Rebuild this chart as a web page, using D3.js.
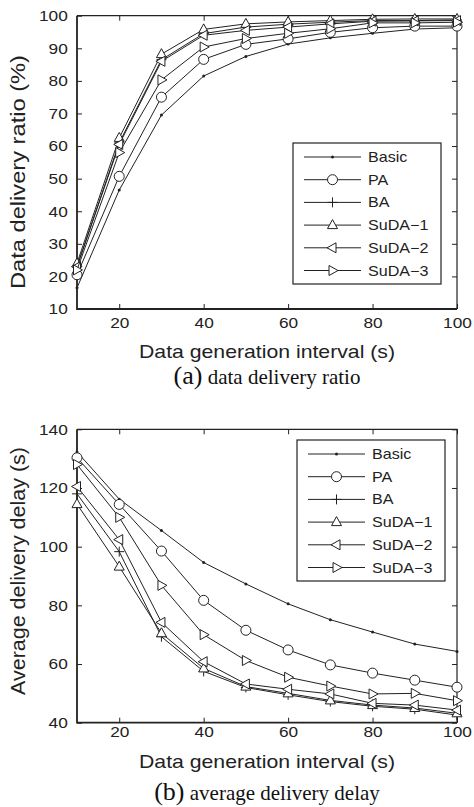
<!DOCTYPE html>
<html>
<head>
<meta charset="utf-8">
<script src="https://cdn.jsdelivr.net/npm/d3@7"></script>
<style>
  body { margin: 0; background: #fff; }
  svg { display: block; }
</style>
</head>
<body>
<svg id="fig" width="474" height="807"></svg>
<script>
// x values shared by both panels
const intervals = [10, 20, 30, 40, 50, 60, 70, 80, 90, 100];
const xTicks = [20, 40, 60, 80, 100];
const seriesNames = ["Basic", "PA", "BA", "SuDA\u22121", "SuDA\u22122", "SuDA\u22123"];
const markerTypes = ["dot", "circle", "plus", "triUp", "triLeft", "triRight"];

// (a) data delivery ratio (%)
const ratioBasic = [16.5, 46.5, 69.5, 81.5, 87.5, 91.3, 93.2, 94.6, 95.9, 96.3];
const ratioPA    = [20.5, 50.7, 75.0, 86.6, 91.2, 92.9, 94.9, 96.3, 96.8, 96.8];
const ratioBA    = [23.0, 61.0, 86.5, 94.5, 96.5, 97.4, 98.0, 98.5, 98.5, 98.7];
const ratioSuDA1 = [24.0, 62.5, 88.2, 95.8, 97.5, 98.1, 98.5, 98.9, 99.0, 99.0];
const ratioSuDA2 = [23.0, 60.5, 86.0, 94.0, 95.5, 96.5, 97.5, 98.3, 98.4, 98.5];
const ratioSuDA3 = [22.0, 58.0, 80.3, 90.4, 93.0, 94.6, 96.0, 97.8, 97.8, 98.0];
const ratioTicks = [10, 20, 30, 40, 50, 60, 70, 80, 90, 100];

// (b) average delivery delay (s)
const delayBasic = [132.3, 116.2, 105.5, 94.6, 87.3, 80.5, 75.1, 70.9, 66.8, 64.3];
const delayPA    = [130.3, 114.4, 98.5, 81.7, 71.5, 64.8, 59.7, 56.9, 54.5, 52.1];
const delayBA    = [118.0, 98.3, 69.3, 57.5, 52.0, 49.5, 47.2, 45.6, 44.6, 42.6];
const delaySuDA1 = [114.5, 93.2, 70.5, 58.5, 52.3, 50.0, 47.6, 46.0, 45.0, 43.2];
const delaySuDA2 = [120.5, 102.4, 74.2, 60.8, 53.2, 51.4, 49.8, 46.6, 46.0, 44.3];
const delaySuDA3 = [128.0, 110.0, 86.8, 70.0, 61.2, 55.5, 52.5, 49.8, 50.0, 47.5];
const delayTicks = [40, 60, 80, 100, 120, 140];

const svg = d3.select("#fig");
svg.append("rect").attr("width", 474).attr("height", 807).attr("fill", "#fff");

const ink = "#222";
const sans = "'Liberation Sans', Arial, sans-serif";
const serif = "'Liberation Serif', 'Times New Roman', serif";
const stretch = 1.15; // original text is a bit wider than Arial

function marker(g, type, cx, cy) {
    if (type === "dot") {
        g.append("circle").attr("cx", cx).attr("cy", cy).attr("r", 1.5).attr("fill", ink);
        return;
    }
    let d;
    if (type === "circle") d = "M5,0A5,5 0 1,1 -5,0A5,5 0 1,1 5,0Z";
    else if (type === "plus") d = "M-5,0H5M0,-5V5";
    else if (type === "triUp") d = "M0,-5.5L5,3.5L-5,3.5Z";
    else if (type === "triLeft") d = "M-5.5,0L3.5,-5L3.5,5Z";
    else d = "M5.5,0L-3.5,-5L-3.5,5Z";
    g.append("path")
        .attr("d", d)
        .attr("transform", `translate(${cx},${cy})`)
        .attr("fill", type === "plus" ? "none" : "#fff")
        .attr("stroke", ink)
        .attr("stroke-width", 1);
}

function drawPanel(cfg) {
    const left = 77, right = 457;
    const x = d3.scaleLinear().domain([10, 100]).range([left, right]);
    const y = d3.scaleLinear().domain(cfg.yDomain).range([cfg.bottom, cfg.top]);
    const g = svg.append("g");

    // ticks, inward on all four sides
    const bottomAxis = g.append("g").attr("transform", `translate(0,${cfg.bottom})`)
        .call(d3.axisBottom(x).tickValues(xTicks).tickSizeInner(-5).tickSizeOuter(0).tickPadding(cfg.xPad));
    const leftAxis = g.append("g").attr("transform", `translate(${left},0)`)
        .call(d3.axisLeft(y).tickValues(cfg.yTicks).tickSizeInner(-5).tickSizeOuter(0).tickPadding(8));
    g.append("g").attr("transform", `translate(0,${cfg.top})`)
        .call(d3.axisTop(x).tickValues(xTicks).tickSizeInner(-5).tickSizeOuter(0).tickFormat(""));
    g.append("g").attr("transform", `translate(${right},0)`)
        .call(d3.axisRight(y).tickValues(cfg.yTicks).tickSizeInner(-5).tickSizeOuter(0).tickFormat(""));
    g.selectAll(".domain").remove();
    g.selectAll(".tick line").attr("stroke", ink).attr("stroke-width", 1);
    [bottomAxis, leftAxis].forEach(a => a.selectAll("text")
        .attr("fill", ink)
        .attr("font-family", sans)
        .attr("font-size", 15)
        .attr("transform", `scale(${stretch},1)`));

    // frame
    g.append("path").attr("d", `M${left},${cfg.top}H${right}V${cfg.bottom}`)
        .attr("fill", "none").attr("stroke", ink).attr("stroke-width", 1.2);
    g.append("path").attr("d", `M${left},${cfg.top}V${cfg.bottom}H${right}`)
        .attr("fill", "none").attr("stroke", ink).attr("stroke-width", 1.8);

    // series
    const line = d3.line().x((d, i) => x(intervals[i])).y(d => y(d));
    cfg.series.forEach((vals, s) => {
        g.append("path").attr("d", line(vals))
            .attr("fill", "none").attr("stroke", ink).attr("stroke-width", 1);
        vals.forEach((v, i) => marker(g, markerTypes[s], x(intervals[i]), y(v)));
    });

    // legend
    const lg = g.append("g").attr("transform", `translate(${cfg.legendX},${cfg.legendY})`);
    lg.append("rect").attr("width", 148).attr("height", 141)
        .attr("fill", "#fff").attr("stroke", ink).attr("stroke-width", 1.2);
    seriesNames.forEach((name, i) => {
        const ry = 14 + i * 22.7;
        lg.append("line").attr("x1", 11).attr("x2", 68).attr("y1", ry).attr("y2", ry)
            .attr("stroke", ink).attr("stroke-width", 1);
        marker(lg, markerTypes[i], 39.5, ry);
        lg.append("text")
            .attr("transform", `translate(75,${ry + 5}) scale(${stretch},1)`)
            .attr("font-family", sans).attr("font-size", 14).attr("fill", ink)
            .text(name);
    });

    // axis titles
    g.append("text")
        .attr("x", 267).attr("y", cfg.xlabelY)
        .attr("text-anchor", "middle")
        .attr("font-family", sans).attr("font-size", 19).attr("fill", ink)
        .attr("textLength", 256).attr("lengthAdjust", "spacingAndGlyphs")
        .text("Data generation interval (s)");
    g.append("text")
        .attr("transform", `translate(25,${cfg.ylabelY}) rotate(-90)`)
        .attr("text-anchor", "middle")
        .attr("font-family", sans).attr("font-size", 20).attr("fill", ink)
        .attr("textLength", cfg.ylabelLen).attr("lengthAdjust", "spacingAndGlyphs")
        .text(cfg.ylabel);

    // caption
    const cap = g.append("text")
        .attr("x", 267).attr("y", cfg.captionY)
        .attr("text-anchor", "middle")
        .attr("font-family", serif).attr("fill", "#111");
    cap.append("tspan").attr("font-size", 26).text(cfg.captionTag);
    cap.append("tspan").attr("font-size", 21).text(" " + cfg.captionText);
}

drawPanel({
    top: 15.7, bottom: 309, yDomain: [10, 100], yTicks: ratioTicks,
    series: [ratioBasic, ratioPA, ratioBA, ratioSuDA1, ratioSuDA2, ratioSuDA3],
    xPad: 8, xlabelY: 358,
    ylabel: "Data delivery ratio (%)", ylabelY: 172, ylabelLen: 234,
    captionTag: "(a)", captionText: "data delivery ratio", captionY: 384,
    legendX: 293, legendY: 143
});

drawPanel({
    top: 429.3, bottom: 722.7, yDomain: [40, 140], yTicks: delayTicks,
    series: [delayBasic, delayPA, delayBA, delaySuDA1, delaySuDA2, delaySuDA3],
    xPad: 4, xlabelY: 768,
    ylabel: "Average delivery delay (s)", ylabelY: 571, ylabelLen: 248,
    captionTag: "(b)", captionText: "average delivery delay", captionY: 800,
    legendX: 297, legendY: 440
});
</script>
</body>
</html>
